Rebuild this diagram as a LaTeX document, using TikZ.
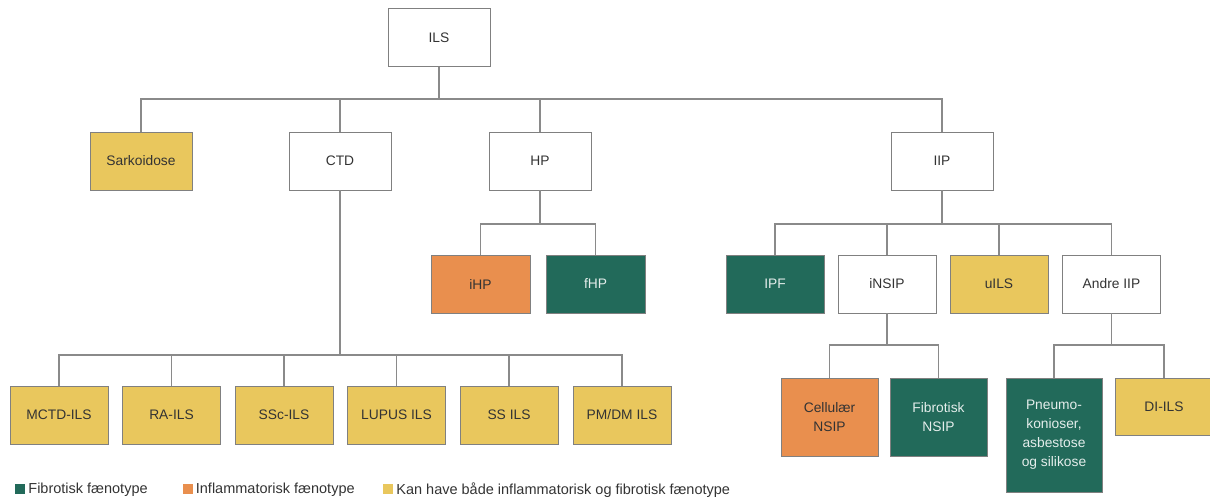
\documentclass[tikz,border=0pt]{standalone}
\usepackage{fontspec}
\setmainfont{Liberation Sans}
\usetikzlibrary{positioning}

\definecolor{fibgreen}{HTML}{226A5A}
\definecolor{inforange}{HTML}{E98F4E}
\definecolor{bothyellow}{HTML}{E9C75D}
\definecolor{boxtext}{HTML}{333333}
\definecolor{linegrey}{HTML}{8A8A8A}

\tikzset{
  box/.style={draw=black!50, line width=0.9pt, minimum width=102pt, minimum height=58pt,
    inner sep=2pt, align=center, text=boxtext, font=\fontsize{13.8}{19}\selectfont},
  leaf/.style={box, minimum width=98pt},
  fib/.style={fill=fibgreen, text=white!88!fibgreen},
  infl/.style={fill=inforange},
  both/.style={fill=bothyellow},
  link/.style={draw=linegrey, line width=1.1pt},
  legkey/.style={minimum size=10pt, inner sep=0pt},
  legtext/.style={inner sep=0pt, text=boxtext, anchor=west, font=\fontsize{14.5}{17}\selectfont},
}

\begin{document}
\begin{tikzpicture}[x=1pt, y=-1pt]
    \useasboundingbox (0,0) rectangle (1210,497);

    \node[box] (ils) at (439,37.5) {ILS};

    \node[box, both] (sark) at (141,161) {Sarkoidose};
    \node[box] (ctd) at (340,161) {CTD};
    \node[box] (hp) at (540,161) {HP};
    \node[box] (iip) at (942,161) {IIP};

    \node[leaf, infl, minimum width=99pt] (ihp) at (480.5,284) {iHP};
    \node[leaf, fib, minimum width=99pt] (fhp) at (595.5,284) {fHP};

    \node[leaf, fib] (ipf) at (775,284) {IPF};
    \node[leaf] (insip) at (887,284) {iNSIP};
    \node[leaf, both] (uils) at (999,284) {uILS};
    \node[leaf] (andre) at (1111.5,284) {Andre IIP};

    \node[leaf, both] (mctd) at (59,415) {MCTD-ILS};
    \node[leaf, both] (ra) at (171.5,415) {RA-ILS};
    \node[leaf, both] (ssc) at (284,415) {SSc-ILS};
    \node[leaf, both] (lupus) at (396.5,415) {LUPUS ILS};
    \node[leaf, both] (ss) at (509,415) {SS ILS};
    \node[leaf, both] (pmdm) at (622,415) {PM/DM ILS};

    \node[leaf, infl, minimum width=97pt, minimum height=78pt] (cnsip) at (829.5,417) {Cellulær\\NSIP};
    \node[leaf, fib, minimum width=97pt, minimum height=78pt] (fnsip) at (938.5,417) {Fibrotisk\\NSIP};
    \node[leaf, fib, minimum width=96pt, minimum height=114pt] (pneumo) at (1054,435) {Pneumo-\\konioser,\\asbestose\\og silikose};
    \node[leaf, both, minimum height=57pt] (dils) at (1164,406.5) {DI-ILS};

    % connectors
    \coordinate (bar0) at (0,99);
    \coordinate (bar1) at (0,224);
    \coordinate (bar2) at (0,355);
    \coordinate (bar3) at (0,345);

    \draw[link] (ils.south) -- (ils.south |- bar0);
    \draw[link] (sark.north) |- (iip.north |- bar0) -- (iip.north);
    \draw[link] (ctd.north) -- (ctd.north |- bar0);
    \draw[link] (hp.north) -- (hp.north |- bar0);

    \draw[link] (hp.south) -- (hp.south |- bar1);
    \draw[link] (ihp.north) |- (fhp.north |- bar1) -- (fhp.north);

    \draw[link] (iip.south) -- (iip.south |- bar1);
    \draw[link] (ipf.north) |- (andre.north |- bar1) -- (andre.north);
    \draw[link] (insip.north) -- (insip.north |- bar1);
    \draw[link] (uils.north) -- (uils.north |- bar1);

    \draw[link] (ctd.south) -- (ctd.south |- bar2);
    \draw[link] (mctd.north) |- (pmdm.north |- bar2) -- (pmdm.north);
    \draw[link] (ra.north) -- (ra.north |- bar2);
    \draw[link] (ssc.north) -- (ssc.north |- bar2);
    \draw[link] (lupus.north) -- (lupus.north |- bar2);
    \draw[link] (ss.north) -- (ss.north |- bar2);

    \draw[link] (insip.south) -- (insip.south |- bar3);
    \draw[link] (cnsip.north) |- (fnsip.north |- bar3) -- (fnsip.north);
    \draw[link] (andre.south) -- (andre.south |- bar3);
    \draw[link] (pneumo.north) |- (dils.north |- bar3) -- (dils.north);

    % legend
    \node[legkey, fill=fibgreen] (keyfib) at (20,488.5) {};
    \node[legtext] (txtfib) at ([xshift=3pt,yshift=-1.5pt]keyfib.east) {Fibrotisk fænotype};
    \node[legkey, fill=inforange] (keyinfl) at (187.5,488.5) {};
    \node[legtext] (txtinfl) at ([xshift=3pt,yshift=-1.5pt]keyinfl.east) {Inflammatorisk fænotype};
    \node[legkey, fill=bothyellow] (keyboth) at (388,488.5) {};
    \node[legtext] (txtboth) at ([xshift=3pt,yshift=-1.5pt]keyboth.east) {Kan have både inflammatorisk og fibrotisk fænotype};

\end{tikzpicture}
\end{document}
